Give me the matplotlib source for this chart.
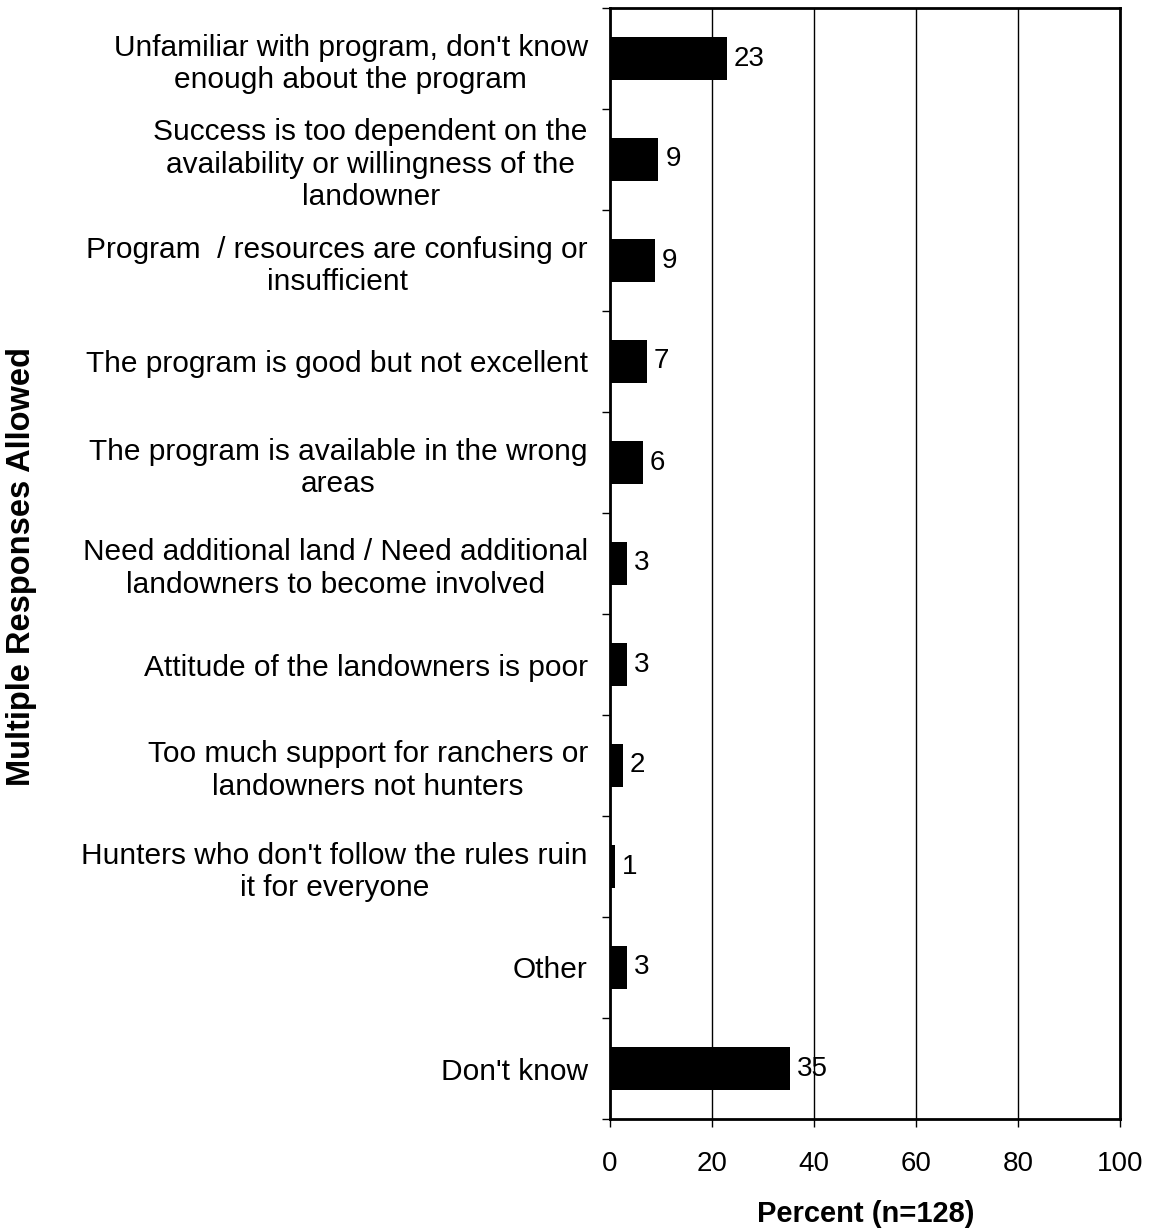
import numpy as np
import matplotlib.pyplot as plt

plt.rcParams['font.family'] = ['Liberation Sans', 'DejaVu Sans']

categories = [
    "Unfamiliar with program, don't know\nenough about the program",
    "Success is too dependent on the\navailability or willingness of the\nlandowner",
    "Program  / resources are confusing or\ninsufficient",
    "The program is good but not excellent",
    "The program is available in the wrong\nareas",
    "Need additional land / Need additional\nlandowners to become involved",
    "Attitude of the landowners is poor",
    "Too much support for ranchers or\nlandowners not hunters",
    "Hunters who don't follow the rules ruin\nit for everyone",
    "Other",
    "Don't know",
]
values = [22.9, 9.5, 8.8, 7.2, 6.4, 3.3, 3.3, 2.5, 1.0, 3.3, 35.3]
labels = ["23", "9", "9", "7", "6", "3", "3", "2", "1", "3", "35"]

fig = plt.figure(figsize=(11.5, 12.28), dpi=100)
ax = fig.add_axes([610/1150, 1-1119/1228, 510/1150, 1111/1228])

n = len(categories)
y = np.arange(n)
ax.barh(y, values, height=0.42, color='black', zorder=3)
for yi, v, lab in zip(y, values, labels):
    ax.annotate(lab, (v, yi), xytext=(5, 0), textcoords='offset points',
                va='center', ha='left', fontsize=20, zorder=4)

ax.set_xlim(0, 100)
ax.set_ylim(n - 0.5, -0.5)
ax.set_xticks([0, 20, 40, 60, 80, 100])
ax.tick_params(axis='x', labelsize=20, direction='out', length=6, width=1, pad=17)
ax.grid(axis='x', color='black', linewidth=1, zorder=0)

# category labels at bar centres, ticks at slot boundaries
ax.set_yticks(y)
ax.set_yticklabels(categories, fontsize=21.5, multialignment='center')
ax.tick_params(axis='y', which='major', length=0, pad=16)
ax.set_yticks(np.arange(n + 1) - 0.5, minor=True)
ax.tick_params(axis='y', which='minor', length=6, width=1, direction='out')

for s in ax.spines.values():
    s.set_linewidth(2)

fig.text(866/1150, 1-1222/1228, "Percent (n=128)", fontsize=21,
         fontweight='bold', ha='center', va='baseline')
fig.text(22/1150, 1-567/1228, "Multiple Responses Allowed", rotation=90,
         fontsize=23.5, fontweight='bold', ha='center', va='center')

fig.savefig("out.png", dpi=100)
